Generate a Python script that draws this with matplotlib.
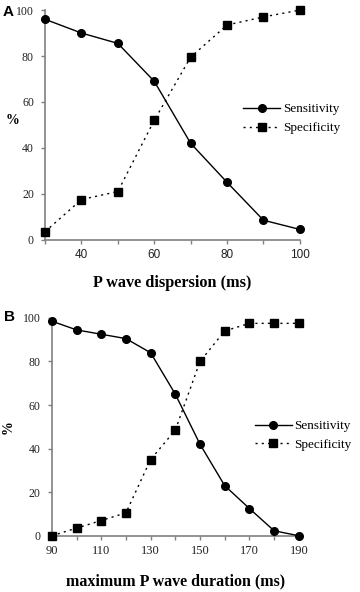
import matplotlib
matplotlib.use("Agg")
import matplotlib.pyplot as plt

# ------------------------------------------------------------------ dados

disp_ms = [30, 40, 50, 60, 70, 80, 90, 100]
disp_sens = [96, 90, 85.5, 69, 42, 25, 8.5, 4.5]
disp_spec = [3.5, 17.5, 21, 52, 79.5, 93.5, 97, 100]

dur_ms = [90, 100, 110, 120, 130, 140, 150, 160, 170, 180, 190]
dur_sens = [98.5, 94.5, 92.5, 90.5, 84, 65, 42, 23, 12.5, 2.3, 0]
dur_spec = [0, 3.5, 7, 10.5, 35, 48.5, 80, 94, 97.5, 97.5, 97.5]

SERIF = "Liberation Serif"
SANS = "Liberation Sans"
GREY = "#808080"


def style_axes(ax):
    for s in ("top", "right"):
        ax.spines[s].set_visible(False)
    for s in ("left", "bottom"):
        ax.spines[s].set_color(GREY)
        ax.spines[s].set_linewidth(1.2)
    ax.tick_params(axis="both", colors=GREY, length=3, width=1, labelcolor="#222222")
    ax.tick_params(axis="y", pad=5)
    ax.set_ylim(0, 100)
    ax.set_yticks([0, 20, 40, 60, 80, 100])
    for lab in ax.get_yticklabels():
        lab.set_fontfamily(SERIF)
        lab.set_fontsize(8.5)


def draw(ax, x, sens, spec):
    ax.plot(x, sens, color="black", linewidth=1, marker="o", markersize=5.5,
            label="Sensitivity", clip_on=False, zorder=3)
    ax.plot(x, spec, color="black", linewidth=1, linestyle=(0, (1.5, 3)),
            marker="s", markersize=5.5, label="Specificity", clip_on=False, zorder=3)


fig = plt.figure(figsize=(3.6, 5.92), dpi=100)

# -- painel A --
axA = fig.add_axes([0.125, 0.595, 0.708, 0.388])
draw(axA, disp_ms, disp_sens, disp_spec)
style_axes(axA)
axA.set_xlim(30, 100)
axA.set_xticks(disp_ms)
axA.set_xticklabels(["" if v in (30, 50, 70, 90) else str(v) for v in disp_ms],
                    fontfamily=SANS, fontsize=8.5)
axA.set_xlabel("P wave dispersion (ms)", fontfamily=SERIF, fontweight="bold",
               fontsize=11.7, labelpad=10)
axA.set_ylabel("%", fontfamily=SERIF, fontweight="bold", fontsize=10,
               rotation=0, ha="left", va="center")
axA.yaxis.set_label_coords(-0.155, 0.52)
axA.legend(loc="center left", bbox_to_anchor=(0.757, 0.527), frameon=False,
           prop={"family": SERIF, "size": 9.5}, handlelength=2.8,
           handletextpad=0.2, labelspacing=0.5, borderaxespad=0)
fig.text(0.008, 0.979, "A", fontfamily=SANS, fontweight="bold", fontsize=11,
         va="center")

# -- painel B --
axB = fig.add_axes([0.144, 0.095, 0.686, 0.368])
draw(axB, dur_ms, dur_sens, dur_spec)
style_axes(axB)
axB.set_xlim(90, 190)
axB.set_xticks(dur_ms)
axB.set_xticklabels([str(v) if (v - 90) % 20 == 0 else "" for v in dur_ms],
                    fontfamily=SERIF, fontsize=9)
axB.set_xlabel("maximum P wave duration (ms)", fontfamily=SERIF, fontweight="bold",
               fontsize=11.5, labelpad=12)
axB.set_ylabel("%", fontfamily=SERIF, fontweight="bold", fontsize=10, labelpad=6)
axB.legend(loc="center left", bbox_to_anchor=(0.80, 0.46), frameon=False,
           prop={"family": SERIF, "size": 9.5}, handlelength=2.8,
           handletextpad=0.2, labelspacing=0.5, borderaxespad=0)
fig.text(0.01, 0.465, "B", fontfamily=SANS, fontweight="bold", fontsize=11,
         va="center")

plt.savefig("out.png", dpi=100)
plt.close()
